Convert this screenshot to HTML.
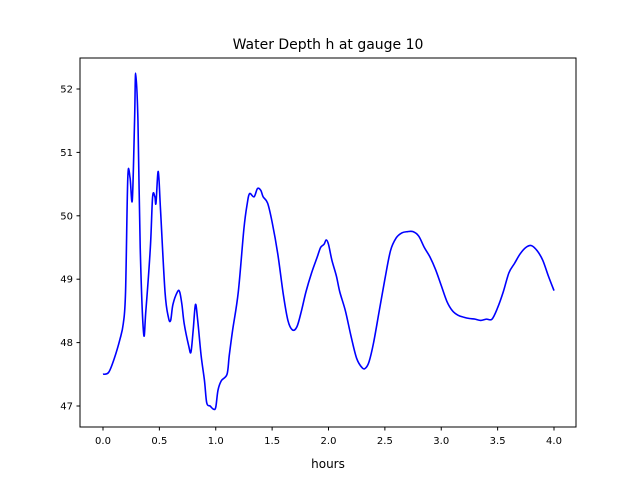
<!DOCTYPE html>
<html><head><meta charset="utf-8"><style>
body{margin:0;background:#fff;}
svg{display:block;font-family:"DejaVu Sans","Liberation Sans",sans-serif;}
</style></head><body>
<svg id="chart" width="640" height="480">
<rect width="640" height="480" fill="#fff"/>
<text x="328" y="49" text-anchor="middle" font-size="14">Water Depth h at gauge 10</text>
<text x="328" y="468" text-anchor="middle" font-size="12">hours</text>
<g id="ticks"></g>
<path id="line" fill="none" stroke="#0000ff" stroke-width="1.6"/>
<rect x="80" y="58" width="496" height="369" fill="none" stroke="#000" stroke-width="1"/>
</svg>
<script>
const hours=[0.0,0.05,0.1,0.15,0.18,0.2,0.22,0.24,0.26,0.28,0.29,0.31,0.33,0.36,0.38,0.42,0.44,0.46,0.47,0.49,0.51,0.55,0.58,0.6,0.62,0.66,0.68,0.7,0.72,0.76,0.78,0.8,0.82,0.84,0.87,0.9,0.92,0.95,0.98,1.0,1.02,1.05,1.1,1.12,1.15,1.2,1.25,1.28,1.3,1.34,1.37,1.4,1.42,1.46,1.5,1.55,1.6,1.64,1.68,1.72,1.76,1.8,1.85,1.9,1.93,1.96,1.98,2.0,2.03,2.07,2.1,2.15,2.2,2.25,2.3,2.33,2.36,2.4,2.45,2.5,2.55,2.6,2.65,2.7,2.75,2.8,2.85,2.9,2.95,3.0,3.05,3.1,3.15,3.2,3.25,3.3,3.35,3.4,3.45,3.5,3.55,3.6,3.65,3.7,3.75,3.8,3.85,3.9,3.95,4.0];
const depth=[47.5,47.53,47.75,48.05,48.3,48.8,50.6,50.6,50.25,51.5,52.25,51.5,49.5,48.15,48.5,49.5,50.3,50.3,50.2,50.7,50.1,48.8,48.4,48.35,48.6,48.8,48.8,48.6,48.3,47.95,47.85,48.2,48.6,48.35,47.8,47.4,47.05,47.0,46.95,46.98,47.25,47.4,47.5,47.8,48.2,48.8,49.8,50.2,50.35,50.3,50.43,50.4,50.3,50.2,49.9,49.4,48.75,48.35,48.2,48.25,48.5,48.8,49.1,49.35,49.5,49.55,49.62,49.55,49.3,49.05,48.8,48.5,48.1,47.75,47.6,47.6,47.7,48.0,48.5,49.0,49.45,49.65,49.73,49.75,49.75,49.68,49.5,49.35,49.15,48.9,48.65,48.5,48.43,48.4,48.38,48.37,48.35,48.37,48.37,48.55,48.8,49.1,49.25,49.4,49.5,49.53,49.45,49.3,49.05,48.82];
const xTicks=[0,0.5,1,1.5,2,2.5,3,3.5,4];
const xTickLabels=["0.0","0.5","1.0","1.5","2.0","2.5","3.0","3.5","4.0"];
const yTicks=[47,48,49,50,51,52];
const yTickLabels=["47","48","49","50","51","52"];
const sx=v=>103+v*112.75;
const sy=v=>406-(v-47)*63.4;
const NS="http://www.w3.org/2000/svg";
const g=document.getElementById('ticks');
function mk(tag,attrs,txt){const e=document.createElementNS(NS,tag);for(const k in attrs)e.setAttribute(k,attrs[k]);if(txt!==undefined)e.textContent=txt;g.appendChild(e);return e;}
xTicks.forEach((t,i)=>{const x=sx(t);
 const l=mk('line',{x1:x,x2:x,y1:427,y2:430.5,stroke:'#000'});
 
 
 const tx=mk('text',{x:x,y:444,'text-anchor':'middle','font-size':10},xTickLabels[i]);
 
 
});
yTicks.forEach((t,i)=>{const y=sy(t);
 const l=mk('line',{x1:76.5,x2:80,y1:y,y2:y,stroke:'#000'});
 
 
 const tx=mk('text',{x:73,y:y+3.5,'text-anchor':'end','font-size':10},yTickLabels[i]);
 
 
});
// smooth path (Catmull-Rom)
const pts=hours.map((h,i)=>[sx(h),sy(depth[i])]);
let d='M'+pts[0][0]+','+pts[0][1];
for(let i=0;i<pts.length-1;i++){
 const p0=pts[Math.max(0,i-1)],p1=pts[i],p2=pts[i+1],p3=pts[Math.min(pts.length-1,i+2)];
 const c1=[p1[0]+(p2[0]-p0[0])/6,p1[1]+(p2[1]-p0[1])/6];
 const c2=[p2[0]-(p3[0]-p1[0])/6,p2[1]-(p3[1]-p1[1])/6];
 d+=' C'+c1[0]+','+c1[1]+' '+c2[0]+','+c2[1]+' '+p2[0]+','+p2[1];
}
document.getElementById('line').setAttribute('d',d);
</script>
</body></html>
